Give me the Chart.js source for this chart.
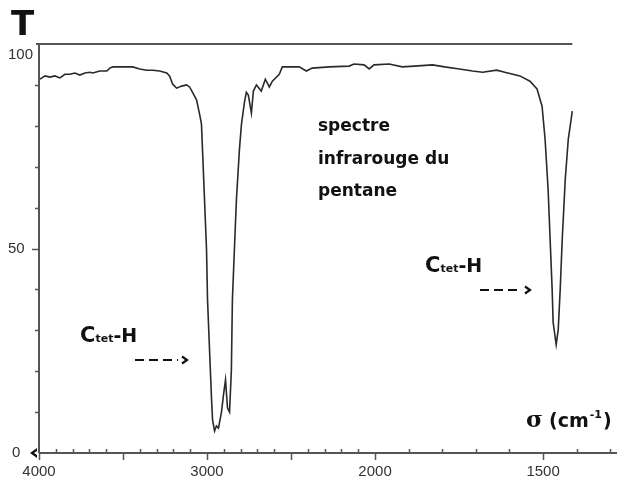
<!DOCTYPE html>
<html>
<head>
<meta charset="utf-8">
<script src="https://cdn.jsdelivr.net/npm/chart.js@4/dist/chart.umd.min.js"></script>
<style>
  html, body { margin: 0; padding: 0; background: #fff; }
  canvas { display: block; }
</style>
</head>
<body>
<canvas id="irChart" width="617" height="484"></canvas>
<script>
// IR spectrum of pentane: wavenumber (cm-1) vs transmittance (%)
const wavenumbers = [
  3994, 3964, 3935, 3905, 3875, 3846, 3816, 3786, 3757, 3727, 3697, 3680, 3638, 3596,
  3579, 3561, 3519, 3442, 3401, 3359, 3323, 3282, 3240, 3223, 3205, 3181, 3151, 3122,
  3104, 3086, 3062, 3044, 3033, 3027, 3015, 3003, 2997, 2985, 2973, 2967, 2955, 2944,
  2932, 2914, 2902, 2890, 2878, 2866, 2855, 2849, 2837, 2825, 2807, 2795, 2777, 2766,
  2754, 2736, 2724, 2706, 2677, 2653, 2629, 2611, 2570, 2552, 2451, 2409, 2374, 2273,
  2154, 2125, 2065, 2035, 2006, 1958, 1919, 1883, 1829, 1793, 1749, 1710, 1680, 1638,
  1614, 1569, 1539, 1518, 1503, 1494, 1485, 1479, 1473, 1470, 1461, 1455, 1449, 1443,
  1434, 1425, 1413
];
const transmittance = [
  91.4, 92.2, 91.9, 92.2, 91.7, 92.6, 92.6, 92.9, 92.4, 92.9, 93.1, 92.9, 93.4, 93.4,
  94.1, 94.4, 94.4, 94.4, 93.9, 93.6, 93.6, 93.4, 92.9, 92.2, 90.2, 89.2, 89.7, 90.0,
  89.5, 88.2, 86.3, 82.8, 80.4, 74.3, 62.0, 49.8, 37.5, 25.2, 13.0, 8.1, 5.4, 6.6,
  6.1, 10.0, 14.2, 17.9, 11.0, 10.0, 20.3, 37.5, 49.8, 62.0, 74.3, 80.4, 85.8, 88.2,
  87.5, 83.1, 88.5, 90.0, 88.5, 91.4, 89.5, 90.9, 92.6, 94.4, 94.4, 93.4, 94.1, 94.4,
  94.6, 95.1, 94.9, 93.9, 94.9, 95.1, 94.4, 94.6, 94.9, 94.4, 93.9, 93.4, 93.1, 93.6,
  93.1, 92.2, 90.9, 89.0, 84.8, 76.7, 64.5, 52.2, 40.0, 31.9, 26.5, 30.1, 40.0, 52.2,
  66.9, 76.7, 83.6
];

const xTickLabels = [4000, 3000, 2000, 1500];
const xMajorTicks = [4000, 3500, 3000, 2500, 2000, 1500];
const xMinorTicks = [3900, 3800, 3700, 3600, 3400, 3300, 3200, 3100, 2900, 2800, 2700, 2600,
  2400, 2300, 2200, 2100, 1900, 1800, 1700, 1600, 1400, 1300];
const yTickLabels = [0, 50, 100];
const yMinorTicks = [10, 20, 30, 40, 60, 70, 80, 90];

// spectrometer chart paper: scale doubles below 2000 cm-1
function toAxis(s) {
  return s >= 2000 ? 4000 - s : 2000 + 2 * (2000 - s);
}

const points = wavenumbers.map((s, i) => ({ x: toAxis(s), y: transmittance[i] }));

function drawLabel(ctx, x, baseline, big) {
  ctx.fillStyle = '#111';
  ctx.textAlign = 'left';
  ctx.textBaseline = 'alphabetic';
  ctx.font = 'bold ' + big + 'px "DejaVu Sans"';
  ctx.fillText('C', x, baseline);
  x += ctx.measureText('C').width;
  ctx.font = 'bold 11px "DejaVu Sans"';
  ctx.fillText('tet', x, baseline);
  x += ctx.measureText('tet').width;
  ctx.font = 'bold ' + (big - 2) + 'px "DejaVu Sans"';
  ctx.fillText('-H', x, baseline);
}

function drawArrow(ctx, x0, x1, y) {
  ctx.save();
  ctx.strokeStyle = '#111';
  ctx.lineWidth = 2.2;
  ctx.setLineDash([9, 5]);
  ctx.beginPath();
  ctx.moveTo(x0, y);
  ctx.lineTo(x1 - 9, y);
  ctx.stroke();
  ctx.setLineDash([]);
  ctx.beginPath();
  ctx.moveTo(x1 - 5, y - 3.5);
  ctx.lineTo(x1, y);
  ctx.lineTo(x1 - 5, y + 3.5);
  ctx.stroke();
  ctx.restore();
}

const spectrumAxes = {
  id: 'spectrumAxes',
  afterDatasetsDraw(chart) {
    const ctx = chart.ctx;
    const xs = chart.scales.x;
    const ys = chart.scales.y;
    const area = chart.chartArea;
    const y0 = ys.getPixelForValue(0);
    const y100 = ys.getPixelForValue(100);
    const xEnd = xs.getPixelForValue(toAxis(wavenumbers[wavenumbers.length - 1]));

    ctx.save();
    ctx.strokeStyle = '#555';
    ctx.lineWidth = 2;
    ctx.beginPath();
    ctx.moveTo(area.left, y0);
    ctx.lineTo(area.right, y0);
    ctx.moveTo(area.left, y0);
    ctx.lineTo(area.left, y100);
    ctx.stroke();
    ctx.beginPath();
    ctx.moveTo(area.left - 3, y100);
    ctx.lineTo(xEnd, y100);
    ctx.stroke();

    // ticks
    ctx.lineWidth = 1.5;
    ctx.beginPath();
    xMajorTicks.forEach(s => {
      const px = Math.round(xs.getPixelForValue(toAxis(s))) + 0.5;
      ctx.moveTo(px, y0);
      ctx.lineTo(px, y0 + 7);
    });
    xMinorTicks.forEach(s => {
      const px = Math.round(xs.getPixelForValue(toAxis(s))) + 0.5;
      ctx.moveTo(px, y0 - 4);
      ctx.lineTo(px, y0);
    });
    yMinorTicks.forEach(v => {
      const py = Math.round(ys.getPixelForValue(v)) + 0.5;
      ctx.moveTo(area.left - 4, py);
      ctx.lineTo(area.left, py);
    });
    const p50 = Math.round(ys.getPixelForValue(50)) + 0.5;
    ctx.moveTo(area.left - 7, p50);
    ctx.lineTo(area.left, p50);
    ctx.stroke();

    // arrowhead at origin
    ctx.fillStyle = '#111';
    ctx.beginPath();
    ctx.moveTo(area.left - 9, y0);
    ctx.lineTo(area.left - 2, y0 - 5);
    ctx.lineTo(area.left - 2, y0 - 2);
    ctx.lineTo(area.left - 5, y0);
    ctx.lineTo(area.left - 2, y0 + 2);
    ctx.lineTo(area.left - 2, y0 + 5);
    ctx.closePath();
    ctx.fill();

    // tick labels
    ctx.fillStyle = '#333';
    ctx.font = '15px "Liberation Sans"';
    ctx.textBaseline = 'middle';
    ctx.textAlign = 'center';
    xTickLabels.forEach(s => {
      ctx.fillText(String(s), xs.getPixelForValue(toAxis(s)), y0 + 19);
    });
    ctx.textAlign = 'left';
    yTickLabels.forEach(v => {
      const py = Math.max(ys.getPixelForValue(v), y100 + 11);
      ctx.fillText(String(v), v === 0 ? 12 : 8, py);
    });

    // axis titles
    ctx.fillStyle = '#111';
    ctx.textBaseline = 'alphabetic';
    ctx.font = 'bold 34px "DejaVu Sans"';
    ctx.fillText('T', 11, 35);

    ctx.font = 'bold 23px "DejaVu Serif"';
    let x = 526;
    ctx.fillText('\u03c3', x, 427);
    x += ctx.measureText('\u03c3').width + 6;
    ctx.font = 'bold 19px "DejaVu Sans"';
    ctx.fillText('(cm', x, 427);
    x += ctx.measureText('(cm').width + 1;
    ctx.font = 'bold 11px "DejaVu Sans"';
    ctx.fillText('-1', x, 418);
    x += ctx.measureText('-1').width + 1;
    ctx.font = 'bold 19px "DejaVu Sans"';
    ctx.fillText(')', x, 427);

    // annotations
    ctx.font = 'bold 17px "DejaVu Sans"';
    ctx.fillText('spectre', 318, 131);
    ctx.fillText('infrarouge du', 318, 164);
    ctx.fillText('pentane', 318, 196);

    drawLabel(ctx, 80, 342, 21);
    drawArrow(ctx, 135, 187, 360);
    drawLabel(ctx, 425, 272, 21);
    drawArrow(ctx, 480, 530, 290);
    ctx.restore();
  }
};

new Chart(document.getElementById('irChart'), {
  type: 'line',
  data: {
    datasets: [{
      label: 'Transmittance',
      data: points,
      borderColor: '#2a2a2a',
      borderWidth: 1.6,
      pointRadius: 0,
      tension: 0,
      fill: false
    }]
  },
  options: {
    responsive: false,
    animation: false,
    devicePixelRatio: 1,
    layout: { padding: { left: 39, right: 0, top: 44, bottom: 31 } },
    plugins: { legend: { display: false }, tooltip: { enabled: false } },
    scales: {
      x: { type: 'linear', min: 0, max: 3440, display: false },
      y: { type: 'linear', min: 0, max: 100, display: false }
    }
  },
  plugins: [spectrumAxes]
});
</script>
</body>
</html>
